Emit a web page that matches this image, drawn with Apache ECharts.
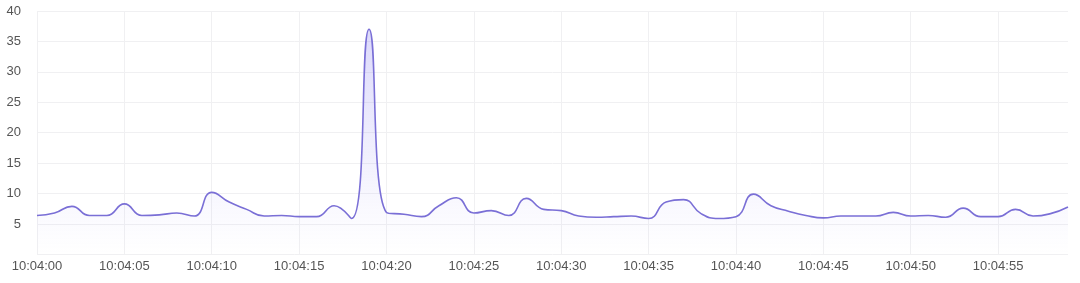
<!DOCTYPE html>
<html>
<head>
<meta charset="utf-8">
<script src="https://cdn.jsdelivr.net/npm/echarts@6/dist/echarts.min.js"></script>
<style>
html,body{margin:0;padding:0;background:#fff;}
#chart{width:1080px;height:283px;}
</style>
</head>
<body>
<div id="chart"></div>
<script>
const categories = [
  '10:04:00','10:04:01','10:04:02','10:04:03','10:04:04','10:04:05','10:04:06','10:04:07','10:04:08','10:04:09',
  '10:04:10','10:04:11','10:04:12','10:04:13','10:04:14','10:04:15','10:04:16','10:04:17','10:04:18','10:04:19',
  '10:04:20','10:04:21','10:04:22','10:04:23','10:04:24','10:04:25','10:04:26','10:04:27','10:04:28','10:04:29',
  '10:04:30','10:04:31','10:04:32','10:04:33','10:04:34','10:04:35','10:04:36','10:04:37','10:04:38','10:04:39',
  '10:04:40','10:04:41','10:04:42','10:04:43','10:04:44','10:04:45','10:04:46','10:04:47','10:04:48','10:04:49',
  '10:04:50','10:04:51','10:04:52','10:04:53','10:04:54','10:04:55','10:04:56','10:04:57','10:04:58','10:04:59'
];
const values = [
  6.4, 6.8, 7.9, 6.4, 6.4, 8.3, 6.4, 6.5, 6.8, 6.3,
  10.2, 8.6, 7.4, 6.3, 6.4, 6.2, 6.2, 8.0, 5.9, 37.0,
  6.9, 6.6, 6.2, 8.0, 9.3, 6.8, 7.2, 6.4, 9.2, 7.4,
  7.2, 6.3, 6.1, 6.2, 6.3, 5.9, 8.6, 9.0, 6.7, 5.9,
  6.2, 9.9, 8.0, 7.1, 6.4, 6.0, 6.3, 6.3, 6.3, 6.9,
  6.3, 6.4, 6.1, 7.6, 6.2, 6.2, 7.4, 6.3, 6.7, 7.8
];
const yMin = 0, yMax = 40, yStep = 5;

const chart = echarts.init(document.getElementById('chart'), null, {renderer: 'canvas'});
chart.setOption({
  animation: false,
  grid: {left: 37, right: 12, top: 11, bottom: 28.6, containLabel: false},
  xAxis: {
    type: 'category',
    data: categories,
    boundaryGap: false,
    axisLine: {show: false},
    axisTick: {show: false},
    axisLabel: {
      interval: 4,
      color: '#555',
      fontSize: 13,
      fontFamily: 'Liberation Sans, Arial, sans-serif',
      margin: 6
    },
    splitLine: {show: true, interval: 4, lineStyle: {color: '#f0f0f2', width: 1}}
  },
  yAxis: {
    type: 'value',
    min: yMin, max: yMax, interval: yStep,
    axisLine: {show: false},
    axisTick: {show: false},
    axisLabel: {
      color: '#555',
      fontSize: 13,
      fontFamily: 'Liberation Sans, Arial, sans-serif',
      margin: 16,
      formatter: v => v === 0 ? '' : String(v)
    },
    splitLine: {lineStyle: {color: '#f0f0f2', width: 1}}
  },
  series: [{
    type: 'line',
    data: values,
    smooth: true,
    showSymbol: false,
    lineStyle: {color: '#7a6fd6', width: 1.6},
    areaStyle: {
      color: new echarts.graphic.LinearGradient(0, 0, 0, 1, [
        {offset: 0, color: 'rgba(125,115,240,0.38)'},
        {offset: 0.8, color: 'rgba(125,115,240,0.06)'},
        {offset: 1, color: 'rgba(125,115,240,0.0)'}
      ])
    }
  }]
});
</script>
</body>
</html>
